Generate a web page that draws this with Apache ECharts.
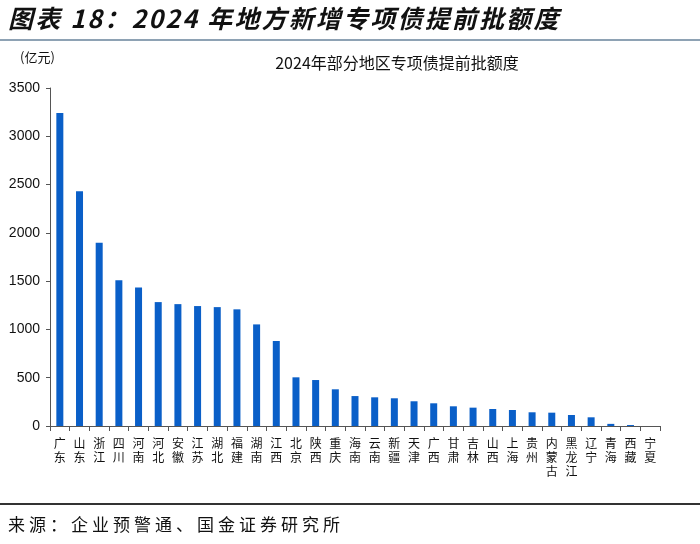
<!DOCTYPE html>
<html><head><meta charset="utf-8">
<script src="https://cdn.jsdelivr.net/npm/echarts@6/dist/echarts.min.js"></script>
<style>
html,body{margin:0;padding:0;background:#fff}
#wrap{position:relative;width:700px;height:544px}
#c{width:700px;height:544px}
.ov{position:absolute;white-space:nowrap;color:#111;font-family:'Noto Sans CJK SC';}
#t{left:8px;top:2px;font-size:25px;line-height:30px;font-weight:bold;font-style:italic;letter-spacing:2.2px}
#s{left:8px;top:512px;font-size:17px;line-height:24px;letter-spacing:4px}
</style>
</head><body><div id="wrap"><div id="c"></div>
<div class="ov" id="t">图表 18：2024 年地方新增专项债提前批额度</div>
<div class="ov" id="s">来源：企业预警通、国金证券研究所</div>
</div>
<script>
var categories = ['广东','山东','浙江','四川','河南','河北','安徽','江苏','湖北','福建','湖南','江西','北京','陕西','重庆','海南','云南','新疆','天津','广西','甘肃','吉林','山西','上海','贵州','内蒙古','黑龙江','辽宁','青海','西藏','宁夏'];
var values = [3240,2432,1897,1508,1435,1283,1262,1242,1231,1208,1052,880,504,476,380,310,297,287,256,235,204,190,176,166,142,138,114,90,22,10,0];
var yTicks = [0,500,1000,1500,2000,2500,3000,3500];

var chart = echarts.init(document.getElementById('c'));
chart.setOption({
  animation:false,
  backgroundColor:'#fff',
  title:{text:'2024年部分地区专项债提前批额度',left:392,top:50,textAlign:'center',
    textStyle:{fontFamily:'Noto Sans CJK SC',fontSize:16,fontWeight:'normal',color:'#111'}},
  graphic:[
    {type:'rect',shape:{x:0,y:39,width:700,height:2},style:{fill:'#8ea2b4'}},
    {type:'text',left:20,top:51,style:{text:'(亿元)',fontFamily:'Noto Sans CJK SC',fontSize:13,fill:'#111'}},
    {type:'rect',shape:{x:0,y:503,width:700,height:2},style:{fill:'#333'}}
  ],
  grid:{left:50,right:40,top:88,bottom:118},
  xAxis:{type:'category',data:categories,
    axisLine:{lineStyle:{color:'#555',width:1}},
    axisTick:{show:true,inside:false,length:5,alignWithLabel:false,lineStyle:{color:'#555'}},
    axisLabel:{interval:0,margin:10,color:'#111',fontFamily:'Noto Sans CJK SC',fontSize:12,lineHeight:14,
      formatter:function(v){return v.split('').join('\n');}}},
  yAxis:{type:'value',min:0,max:3500,interval:500,
    axisLine:{show:true,lineStyle:{color:'#555'}},
    axisTick:{show:true,length:4,lineStyle:{color:'#555'}},
    splitLine:{show:false},
    axisLabel:{margin:10,color:'#111',fontFamily:'Liberation Sans',fontSize:14,
      formatter:function(v){return yTicks.indexOf(v)>=0?String(v):'';}}},
  series:[{type:'bar',data:values,barWidth:7,itemStyle:{color:'#0A5FC8'}}]
});
</script></body></html>
